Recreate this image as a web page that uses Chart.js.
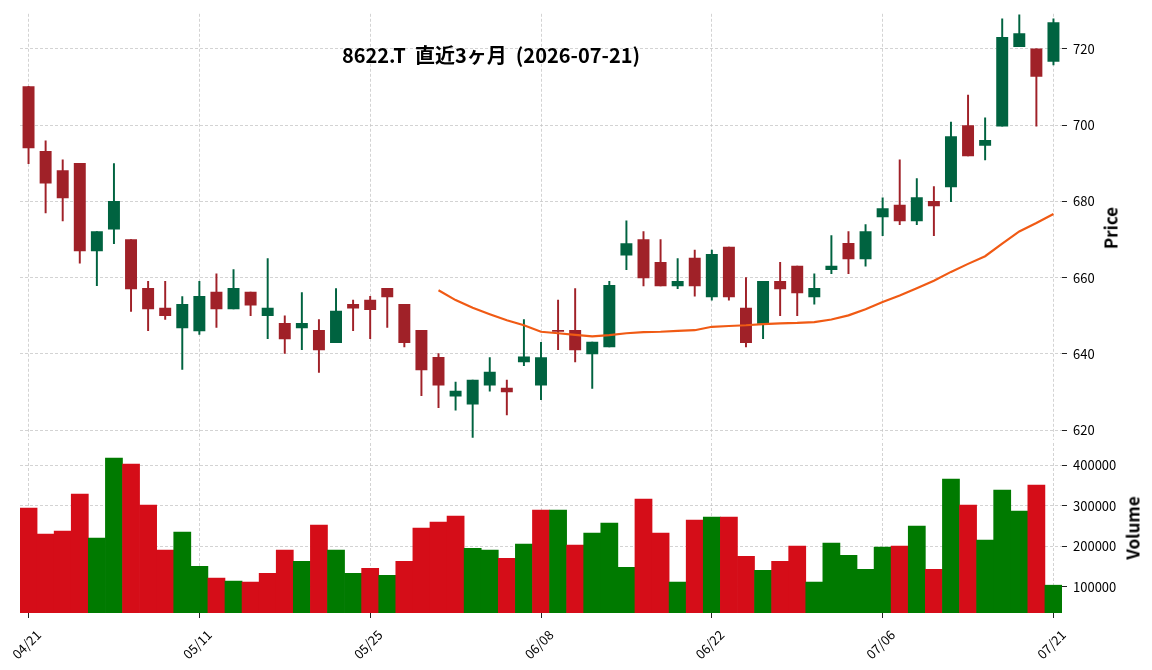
<!DOCTYPE html>
<html>
<head>
<meta charset="utf-8">
<script src="https://cdn.jsdelivr.net/npm/chart.js@4.4.1/dist/chart.umd.min.js"></script>
<style>
  body { margin: 0; background: #fff; }
  #wrap { position: relative; width: 1152px; height: 670px; overflow: hidden; }
  canvas { position: absolute; }
  #priceChart { top: 0; left: 0; }
  #volChart { top: 400px; left: -20px; }
  .lbl { position: absolute; font-family: "Noto Sans CJK JP", "Noto Sans", sans-serif; color: #000; white-space: pre; }
  #title { left: 291px; width: 400px; top: 45px; text-align: center; font-size: 20px; font-weight: bold; line-height: 20px; }
  .ylab { font-size: 17px; font-weight: bold; transform: translate(-50%, -50%) rotate(-90deg); }
</style>
</head>
<body>
<div id="wrap">
  <canvas id="priceChart" width="1152" height="470"></canvas>
  <canvas id="volChart" width="1172" height="270"></canvas>
  <div id="title" class="lbl">8622.T  直近3ヶ月  (2026-07-21)</div>
  <div class="lbl ylab" style="left:1110px; top:228px;">Price</div>
  <div class="lbl ylab" style="left:1132px; top:528px;">Volume</div>
</div>
<script>
// trading days 04/21 .. 07/21
const dates = ['04/21','04/22','04/23','04/24','04/27','04/28','04/30','05/01','05/07','05/08',
  '05/11','05/12','05/13','05/14','05/15','05/18','05/19','05/20','05/21','05/22',
  '05/25','05/26','05/27','05/28','05/29','06/01','06/02','06/03','06/04','06/05',
  '06/08','06/09','06/10','06/11','06/12','06/15','06/16','06/17','06/18','06/19',
  '06/22','06/23','06/24','06/25','06/26','06/29','06/30','07/01','07/02','07/03',
  '07/06','07/07','07/08','07/09','07/10','07/13','07/14','07/15','07/16','07/17',
  '07/21']

const opens = [710.1,693.1,688.1,690.0,667.0,672.7,670.0,657.2,652.0,646.8,
  646.0,656.2,651.8,656.2,650.0,648.0,646.8,646.2,642.9,653.0,
  654.1,657.2,653.0,646.2,639.1,628.9,626.8,631.8,631.0,637.9,
  631.8,646.2,646.2,640.0,641.8,665.9,670.0,664.0,657.8,665.1,
  654.9,668.0,652.0,648.0,659.0,663.0,654.9,662.1,669.0,664.9,
  675.9,679.0,674.9,680.0,683.8,699.9,694.7,699.7,720.6,720.0,
  716.7]
const highs = [710.2,695.9,690.9,690.0,672.1,689.9,670.0,659.0,659.0,655.0,
  659.0,661.0,662.1,656.2,665.0,650.0,656.1,649.0,657.1,654.1,
  655.1,657.2,653.0,646.2,640.1,632.6,633.1,639.0,633.1,649.0,
  643.0,654.1,657.1,643.1,659.0,674.9,672.1,670.0,665.0,667.2,
  667.2,668.0,660.0,659.0,664.0,663.0,661.0,671.0,672.1,673.9,
  680.9,690.9,686.0,683.9,700.8,707.9,701.9,727.9,728.9,720.0,
  727.9]
const lows = [689.9,677.0,674.9,663.8,657.9,668.9,651.1,646.1,649.0,635.9,
  645.1,646.9,651.8,650.0,644.0,640.1,641.1,635.1,642.9,646.1,
  644.0,646.9,641.8,629.0,625.9,625.2,618.1,630.2,624.0,636.9,
  628.0,641.1,637.9,630.9,641.8,662.1,657.8,657.8,657.1,655.1,
  654.1,654.1,641.8,644.0,650.0,650.0,653.0,661.0,661.0,663.0,
  671.0,673.9,673.9,671.0,679.9,691.9,690.9,699.7,720.6,699.7,
  715.8]
const closes = [694.0,684.8,680.9,667.0,672.1,680.0,657.0,651.8,650.0,653.0,
  655.1,651.8,657.2,652.8,652.0,643.9,648.0,641.0,651.2,652.0,
  651.6,654.9,642.9,635.8,631.8,630.2,633.1,635.2,630.0,639.2,
  639.0,645.9,641.0,643.1,658.0,668.9,659.9,657.8,659.0,657.8,
  666.1,654.9,642.9,659.0,657.0,656.0,657.2,663.0,664.9,672.1,
  678.1,674.9,681.0,678.8,697.0,691.9,696.0,723.0,724.0,712.8,
  726.9]
// 25-day moving average as drawn (starts at 05/29)
const ma25 = [null,null,null,null,null,null,null,null,null,null,
  null,null,null,null,null,null,null,null,null,null,
  null,null,null,null,656.7,654.1,652.1,650.4,648.8,647.5,
  645.8,645.4,645.0,644.6,644.9,645.4,645.7,645.8,646.0,646.2,
  647.1,647.3,647.5,647.8,648.0,648.1,648.3,649.0,650.1,651.7,
  653.6,655.3,657.2,659.2,661.5,663.6,665.6,668.9,672.1,674.3,
  676.7]
const volumes = [294400,230200,237600,329000,220300,418000,403200,301900,190600,235000,
  151000,121800,114400,112000,133800,190600,163400,252400,190600,133800,
  146100,128800,163400,245000,259800,274600,195500,190600,170800,205700,
  289700,289700,203000,232700,257400,148600,316700,232700,112000,264800,
  272200,272200,175700,141100,163400,200500,112000,207900,178200,143600,
  198000,200500,250000,143600,366000,301900,215300,339000,287200,351300,
  104300]

const priceTicks = [620, 640, 660, 680, 700, 720]
const volTicks = [100000, 200000, 300000, 400000]

const UP = '#006340', DOWN = '#a02128'
const VUP = '#007a00', VDOWN = '#d50d18'
const GRID = '#c8c8c8'
const FONT = '"Noto Sans CJK JP", "Noto Sans", sans-serif'

const candleColors = closes.map((c, i) => c >= opens[i] ? UP : DOWN)
// volume colour follows close vs previous close
const volColors = closes.map((c, i) => {
  if (i === 0) return c >= opens[0] ? VUP : VDOWN
  return c >= closes[i - 1] ? VUP : VDOWN
})

const every10 = (ctx) => ctx.index % 10 === 0 ? GRID : 'rgba(0,0,0,0)'
const tick10 = (ctx) => ctx.index % 10 === 0 ? '#222' : 'rgba(0,0,0,0)'

new Chart(document.getElementById('priceChart'), {
  type: 'bar',
  data: {
    labels: dates,
    datasets: [
      {
        type: 'line',
        data: ma25,
        borderColor: '#f05a14',
        borderWidth: 2.2,
        pointRadius: 0,
        tension: 0,
        order: 0
      },
      {
        // candle bodies
        data: opens.map((o, i) => [o, closes[i]]),
        backgroundColor: candleColors,
        barThickness: 11.3,
        grouped: false,
        order: 1
      },
      {
        // wicks
        data: lows.map((l, i) => [l, highs[i]]),
        backgroundColor: candleColors,
        barThickness: 1.3,
        grouped: false,
        order: 2
      }
    ]
  },
  options: {
    responsive: false,
    animation: false,
    layout: { padding: { left: 20, top: 11, right: 0, bottom: 30 } },
    plugins: { legend: { display: false }, tooltip: { enabled: false }, title: { display: false } },
    scales: {
      x: {
        afterFit: (s) => { s.height = 0 },
        grid: { offset: false, color: every10, lineWidth: 0.8, drawTicks: false },
        border: { display: false, dash: [3, 2] },
        ticks: { display: false, autoSkip: false }
      },
      y: {
        position: 'right',
        min: 617.4,
        max: 729.2,
        afterBuildTicks: (s) => { s.ticks = priceTicks.map(v => ({ value: v })) },
        afterFit: (s) => { s.width = 90 },
        grid: { color: GRID, lineWidth: 0.8, tickLength: 5, tickColor: '#222', tickWidth: 1, tickBorderDash: [] },
        border: { display: false, dash: [3, 2] },
        ticks: { padding: 6, color: '#000', font: { family: FONT, size: 13 } }
      }
    }
  }
})

new Chart(document.getElementById('volChart'), {
  type: 'bar',
  data: {
    labels: dates,
    datasets: [{
      data: volumes,
      backgroundColor: volColors,
      barPercentage: 1,
      categoryPercentage: 1
    }]
  },
  options: {
    responsive: false,
    animation: false,
    layout: { padding: { left: 40, top: 43, right: 0, bottom: 0 } },
    plugins: { legend: { display: false }, tooltip: { enabled: false } },
    scales: {
      x: {
        afterFit: (s) => { s.height = 57 },
        grid: { offset: false, color: every10, lineWidth: 0.8, tickLength: 5, tickColor: tick10, tickWidth: 1, tickBorderDash: [] },
        border: { display: false, dash: [3, 2] },
        ticks: {
          autoSkip: false,
          minRotation: 45,
          maxRotation: 45,
          labelOffset: 10,
          padding: 9,
          color: '#000',
          font: { family: FONT, size: 13 },
          callback: (v, i) => i % 10 === 0 ? dates[i] : ''
        }
      },
      y: {
        position: 'right',
        min: 35700,
        max: 455000,
        afterBuildTicks: (s) => { s.ticks = volTicks.map(v => ({ value: v })) },
        afterFit: (s) => { s.width = 90 },
        grid: { color: GRID, lineWidth: 0.8, tickLength: 5, tickColor: '#222', tickWidth: 1, tickBorderDash: [] },
        border: { display: false, dash: [3, 2] },
        ticks: { padding: 6, color: '#000', font: { family: FONT, size: 13 }, callback: (v) => String(v) }
      }
    }
  }
})
</script>
</body>
</html>
